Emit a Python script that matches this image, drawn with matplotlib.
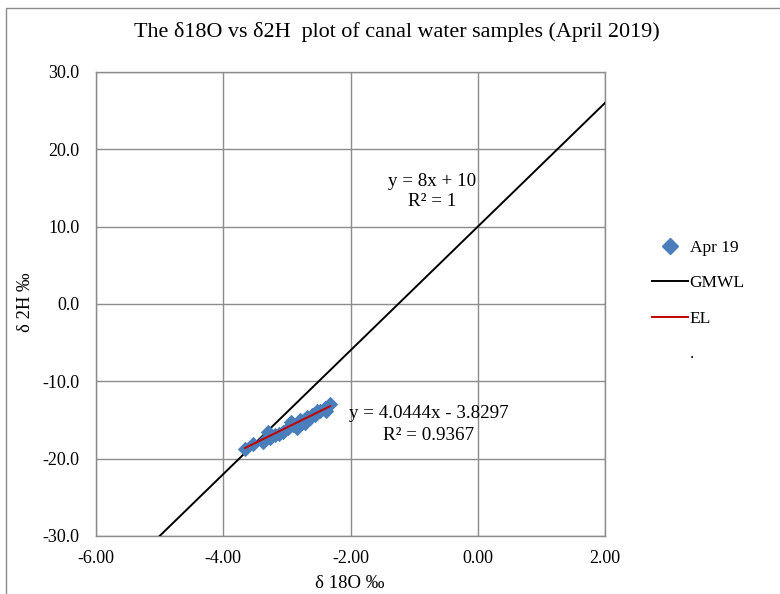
import matplotlib
matplotlib.use("Agg")
import matplotlib.pyplot as plt
import numpy as np
from matplotlib.lines import Line2D
from matplotlib.patches import Rectangle

plt.rcParams['font.family'] = ['Liberation Serif', 'DejaVu Serif']

# Data (April 2019 canal water samples)
d18O = [-3.66, -3.53, -3.37, -3.30, -3.26, -3.19, -3.12, -3.06, -2.98, -2.93, -2.90,
        -2.84, -2.80, -2.77, -2.71, -2.68, -2.64, -2.60, -2.56, -2.52, -2.48, -2.40, -2.38, -2.32]
d2H = [-18.8, -18.1, -17.8, -16.5, -17.3, -17.0, -16.8, -16.5, -16.0, -15.3, -15.7,
       -16.0, -15.0, -15.2, -15.4, -14.6, -14.8, -14.3, -14.4, -13.8, -13.9, -13.5, -13.9, -12.9]
gmwl_x = [-5.0, 2.0]
gmwl_slope, gmwl_int = 8.0, 10.0
el_slope, el_int = 4.0444, -3.8297
xticks = [-6, -4, -2, 0, 2]
yticks = [-30, -20, -10, 0, 10, 20, 30]

fig = plt.figure(figsize=(7.8, 5.94), dpi=100)
W, H = 780, 594
ax = fig.add_axes([96 / W, 1 - 536 / H, (605 - 96) / W, (536 - 72) / H])

grid_c = '#8c8c8c'
ax.set_xlim(-6, 2)
ax.set_ylim(-30, 30)
ax.set_xticks(xticks)
ax.set_yticks(yticks)
ax.set_xticklabels([f"{v:.2f}" for v in xticks])
ax.set_yticklabels([f"{v:.1f}" for v in yticks])
ax.grid(True, color=grid_c, linewidth=1.0)
ax.set_axisbelow(True)
for s in ax.spines.values():
    s.set_color(grid_c)
    s.set_linewidth(1.0)
ax.tick_params(axis='x', length=0, labelsize=13, pad=10)
ax.tick_params(axis='y', length=0, labelsize=13, pad=12)

gx = np.array(gmwl_x)
ax.plot(gx, gmwl_slope * gx + gmwl_int, color='black', linewidth=1.4, label='GMWL', zorder=3)
ax.scatter(d18O, d2H, marker='D', s=62, color='#4a7ebb', label='Apr 19', zorder=4, linewidths=0)
ex = np.array([min(d18O), max(d18O)])
ax.plot(ex, el_slope * ex + el_int, color='#c00000', linewidth=1.4, label='EL', zorder=5)

ax.text(-0.72, 15.8, "y = 8x + 10", ha='center', va='center', fontsize=13.7)
ax.text(-0.72, 13.2, "R² = 1", ha='center', va='center', fontsize=13.7)
ax.text(-2.03, -14.2, "y = 4.0444x - 3.8297", ha='left', va='center', fontsize=13.7)
ax.text(-0.78, -17.05, "R² = 0.9367", ha='center', va='center', fontsize=13.7)

ax.set_xlabel("δ 18O ‰", fontsize=13.5, va='center')
ax.xaxis.set_label_coords((349.5 - 96) / 509, -(583 - 536) / 464)
ax.set_ylabel("δ 2H ‰", fontsize=13.4, va='center')
ax.yaxis.set_label_coords((25 - 96) / 509, (536 - 302) / 464)
fig.text(397 / W, 1 - 32 / H, "The δ18O vs δ2H  plot of canal water samples (April 2019)",
         ha='center', va='center', fontsize=15.9)

handles = [
    Line2D([], [], marker='D', color='#4a7ebb', linestyle='none', markersize=8),
    Line2D([], [], color='black', linewidth=1.4),
    Line2D([], [], color='#c00000', linewidth=1.4),
    Line2D([], [], linestyle='none'),
]
labels = ['Apr 19', 'GMWL', 'EL', '.']
fig.legend(handles, labels, loc='upper left', bbox_to_anchor=(652 / W, 1 - 240 / H),
           frameon=False, fontsize=12.5, handlelength=2.05, handletextpad=0.12,
           labelspacing=1.1, borderaxespad=0, borderpad=0)

fig.add_artist(Rectangle((6 / W, -0.1), 1.2, (1 - 8 / H) + 0.1, transform=fig.transFigure,
                         fill=False, edgecolor='#8c8c8c', linewidth=1.0))

fig.savefig("out.png", dpi=100)
